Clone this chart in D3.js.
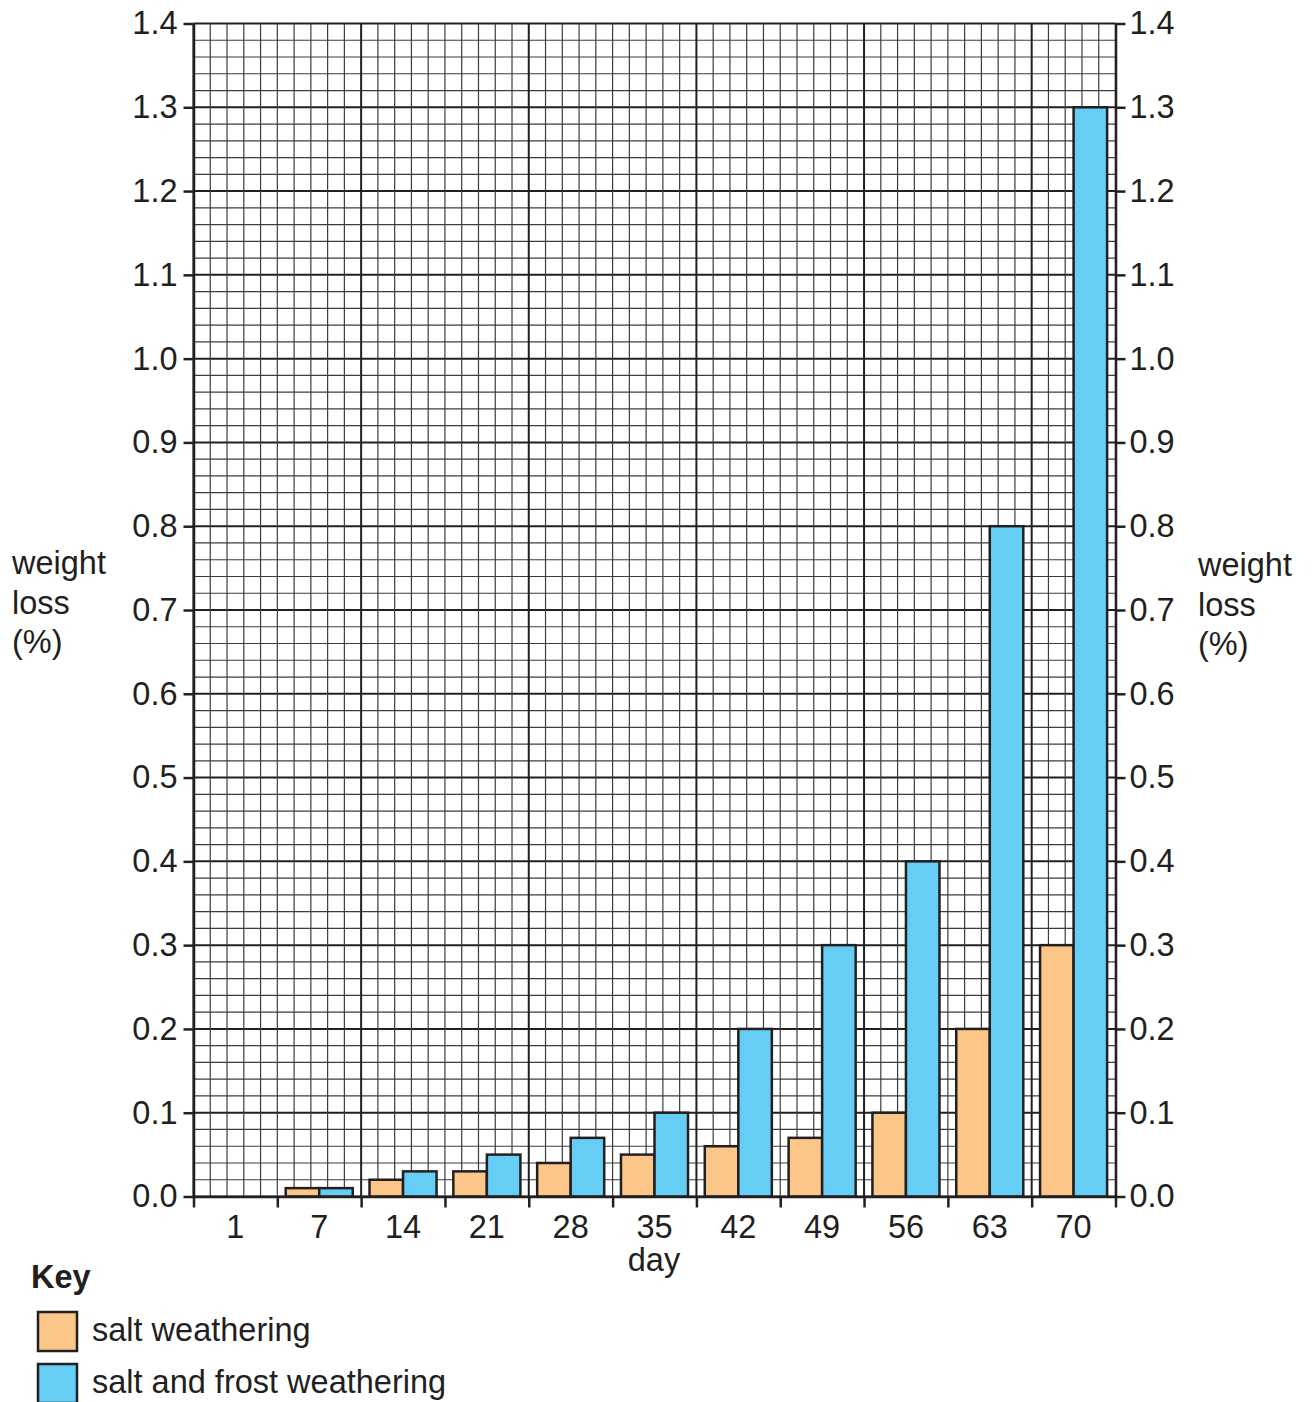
<!DOCTYPE html>
<html>
<head>
<meta charset="utf-8">
<script src="https://cdn.jsdelivr.net/npm/d3@7"></script>
<style>
  body { margin: 0; background: #fff; }
  svg text { font-family: "Liberation Sans", Arial, sans-serif; fill: #231f20; }
</style>
</head>
<body>
<svg id="chart" width="1312" height="1402"></svg>
<script>
// data
var days = ['1', '7', '14', '21', '28', '35', '42', '49', '56', '63', '70'];
var saltValues = [0, 0.01, 0.02, 0.03, 0.04, 0.05, 0.06, 0.07, 0.1, 0.2, 0.3];
var frostValues = [0, 0.01, 0.03, 0.05, 0.07, 0.1, 0.2, 0.3, 0.4, 0.8, 1.3];
var yTicks = [0, 0.1, 0.2, 0.3, 0.4, 0.5, 0.6, 0.7, 0.8, 0.9, 1.0, 1.1, 1.2, 1.3, 1.4];
var seriesNames = ['salt weathering', 'salt and frost weathering'];
var seriesColors = ['#fcc688', '#66cdf4'];

(function () {
  'use strict';

  var plotLeft = 193.5, plotRight = 1115.5, plotTop = 23.5, plotBottom = 1196.5;
  var ink = '#231f20';
  var fontSize = 32.5;
  var svg = d3.select('#chart');

  var xScale = d3.scaleBand().domain(days).range([plotLeft, plotRight]);
  var yScale = d3.scaleLinear().domain([0, 1.4]).range([plotBottom, plotTop]);
  // 5 grid cells per day column
  var gridX = d3.scaleLinear().domain([0, days.length * 5]).range([plotLeft, plotRight]);
  var edgeX = d3.scaleLinear().domain([0, days.length]).range([plotLeft, plotRight]);

  // grid
  var minorY = d3.range(0, 71).map(function (i) { return i * 0.02; });
  var minorX = d3.range(0, days.length * 5 + 1);
  var grid = svg.append('g');
  grid.selectAll('line.hy').data(minorY).enter().append('line')
    .attr('x1', plotLeft).attr('x2', plotRight)
    .attr('y1', function (d) { return yScale(d); })
    .attr('y2', function (d) { return yScale(d); })
    .attr('stroke', function (d, i) { return i % 5 === 0 ? ink : '#3c3c3c'; })
    .attr('stroke-width', function (d, i) { return i % 5 === 0 ? 2 : 1.2; });
  grid.selectAll('line.vx').data(minorX).enter().append('line')
    .attr('y1', plotTop).attr('y2', plotBottom)
    .attr('x1', function (d) { return gridX(d); })
    .attr('x2', function (d) { return gridX(d); })
    .attr('stroke', function (d) { return d % 10 === 0 ? ink : '#3c3c3c'; })
    .attr('stroke-width', function (d) { return d % 10 === 0 ? 2 : 1.2; });

  // bars
  var inner = d3.scaleBand().domain([0, 1]).range([0, xScale.bandwidth()]).paddingOuter(0.25).paddingInner(0);
  [saltValues, frostValues].forEach(function (vals, s) {
    svg.append('g').selectAll('rect').data(vals).enter().append('rect')
      .attr('x', function (d, i) { return xScale(days[i]) + inner(s); })
      .attr('width', inner.bandwidth())
      .attr('y', function (d) { return yScale(d); })
      .attr('height', function (d) { return yScale(0) - yScale(d); })
      .attr('fill', seriesColors[s])
      .attr('stroke', ink)
      .attr('stroke-width', 2.5)
      .style('display', function (d) { return d > 0 ? null : 'none'; });
  });

  // axes
  function styleAxis(g) {
    g.selectAll('path, line').attr('stroke', ink).attr('stroke-width', 2.5);
    g.selectAll('text').attr('font-size', fontSize).attr('fill', ink)
      .attr('font-family', '"Liberation Sans", Arial, sans-serif');
  }
  svg.append('g').attr('transform', 'translate(' + plotLeft + ',0)')
    .call(d3.axisLeft(yScale).tickValues(yTicks).tickSize(10).tickSizeOuter(0).tickPadding(6).tickFormat(d3.format('.1f')))
    .call(styleAxis);
  svg.append('g').attr('transform', 'translate(' + plotRight + ',0)')
    .call(d3.axisRight(yScale).tickValues(yTicks).tickSize(10).tickSizeOuter(0).tickPadding(4).tickFormat(d3.format('.1f')))
    .call(styleAxis);
  svg.append('g').attr('transform', 'translate(0,' + plotBottom + ')')
    .call(d3.axisBottom(edgeX).tickValues(d3.range(0, days.length + 1)).tickSize(11).tickSizeOuter(0).tickFormat(''))
    .call(styleAxis);

  // day labels
  svg.append('g').selectAll('text').data(days).enter().append('text')
    .attr('x', function (d) { return xScale(d) + xScale.bandwidth() / 2; })
    .attr('y', 1238)
    .attr('text-anchor', 'middle')
    .attr('font-size', fontSize)
    .text(function (d) { return d; });

  svg.append('text').attr('x', 654).attr('y', 1271).attr('text-anchor', 'middle')
    .attr('font-size', fontSize).text('day');

  // y titles
  [[12, 574], [1198, 576]].forEach(function (p) {
    var t = svg.append('text').attr('x', p[0]).attr('y', p[1]).attr('font-size', fontSize);
    ['weight', 'loss', '(%)'].forEach(function (w, i) {
      t.append('tspan').attr('x', p[0]).attr('dy', i === 0 ? 0 : 39.5).text(w);
    });
  });

  // key
  svg.append('text').attr('x', 31).attr('y', 1288).attr('font-size', fontSize)
    .attr('font-weight', 'bold').text('Key');
  var key = svg.append('g').selectAll('g').data(seriesNames).enter().append('g')
    .attr('transform', function (d, i) { return 'translate(0,' + (1312 + i * 52) + ')'; });
  key.append('rect').attr('x', 38).attr('y', 0).attr('width', 39).attr('height', 39)
    .attr('fill', function (d, i) { return seriesColors[i]; })
    .attr('stroke', ink).attr('stroke-width', 2.5);
  key.append('text').attr('x', 92).attr('y', 29).attr('font-size', fontSize)
    .text(function (d) { return d; });
})();
</script>
</body>
</html>
